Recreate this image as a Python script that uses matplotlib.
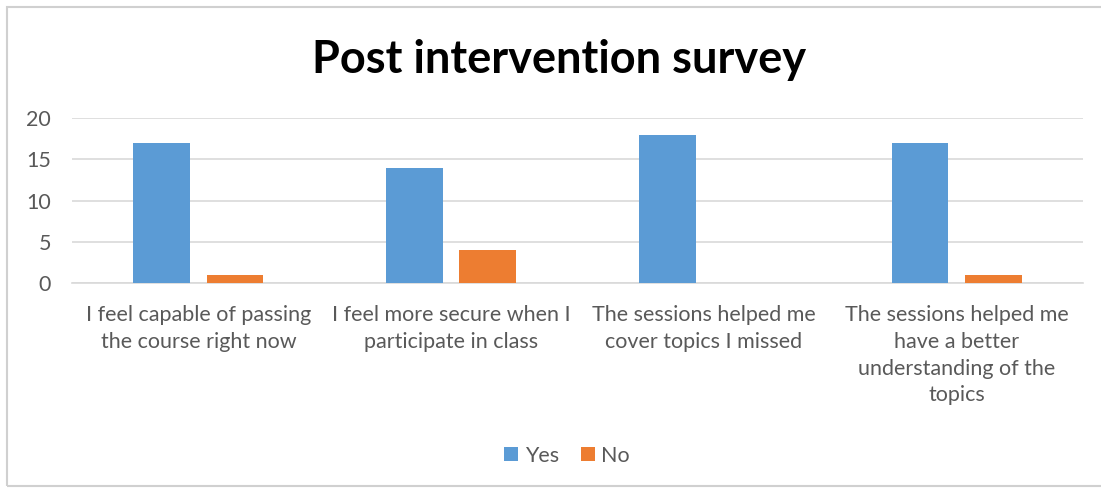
import matplotlib.pyplot as plt
import numpy as np
from matplotlib.patches import Rectangle

categories = [
    "I feel capable of passing\nthe course right now",
    "I feel more secure when I\nparticipate in class",
    "The sessions helped me\ncover topics I missed",
    "The sessions helped me\nhave a better\nunderstanding of the\ntopics",
]
yes = [17, 14, 18, 17]
no = [1, 4, 0, 1]

plt.rcParams['font.family'] = ['Lato', 'DejaVu Sans']
gray = '#595959'

fig = plt.figure(figsize=(11.01, 4.88), dpi=100)
ax = fig.add_axes([0.0654, 0.420, 0.9183, 0.338])

x = np.arange(len(categories))
w = 0.225
ax.bar(x - 0.145, yes, w, color='#5B9BD5', label='Yes', zorder=3)
ax.bar(x + 0.145, no, w, color='#ED7D31', label='No', zorder=3)

ax.set_xlim(-0.5, len(categories) - 0.5)
ax.set_ylim(0, 20)
ax.set_yticks([0, 5, 10, 15, 20])
ax.grid(axis='y', color='#d9d9d9', linewidth=1.2, zorder=0)
for s in ax.spines.values():
    s.set_visible(False)
ax.spines['bottom'].set_visible(True)
ax.spines['bottom'].set_color('#d9d9d9')
ax.spines['bottom'].set_linewidth(1.2)
ax.tick_params(length=0, labelsize=15.5, labelcolor=gray)
ax.tick_params(axis='y', pad=15)
ax.set_xticks(x)
ax.set_xticklabels(categories, linespacing=1.42)
ax.tick_params(axis='x', pad=16)

fig.text(0.508, 0.877, 'Post intervention survey', ha='center', va='center',
         fontsize=32.5, fontweight='bold', color='black')

fig.legend(loc='center', bbox_to_anchor=(0.515, 0.066), ncol=2, frameon=False,
           fontsize=15.5, labelcolor=gray, handlelength=0.65, handleheight=0.65,
           handletextpad=0.3, columnspacing=1.0)

fig.patches.append(Rectangle((7 / 1101, 2 / 488), 1110 / 1101, 479 / 488,
                             transform=fig.transFigure, fill=False,
                             edgecolor='#d0d0d0', linewidth=1.5))

fig.savefig('out.png', dpi=100)
